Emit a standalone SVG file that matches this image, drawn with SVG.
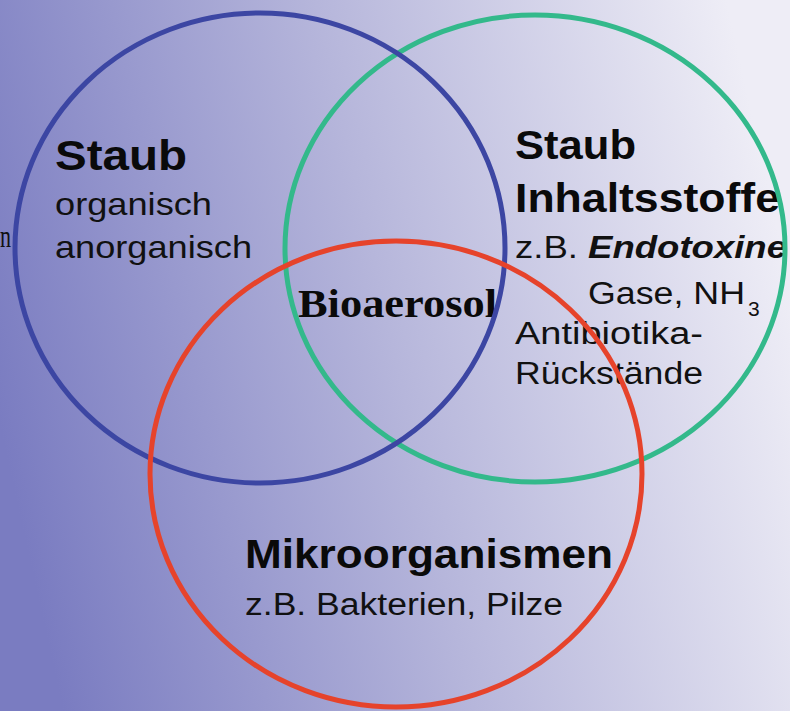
<svg xmlns="http://www.w3.org/2000/svg" width="790" height="711" viewBox="0 0 790 711">
  <defs>
    <linearGradient id="bg" x1="0" y1="0.6" x2="1" y2="0.4">
      <stop offset="0" stop-color="#7a7cc1"/>
      <stop offset="0.5" stop-color="#b6b6db"/>
      <stop offset="1" stop-color="#eeedf6"/>
    </linearGradient>
  </defs>
  <style>
    .ring { fill: none; stroke-width: 5; }
    .b { font-family: "Liberation Sans", Arial, sans-serif; font-weight: bold; fill: #0a0a0a; }
    .r { font-family: "Liberation Sans", Arial, sans-serif; fill: #111111; }
    .s { font-family: "Liberation Serif", "Times New Roman", serif; font-weight: bold; fill: #0a0a0a; }
  </style>
  <rect x="0" y="0" width="790" height="711" fill="url(#bg)"/>
  <text x="0" y="247" font-family="'Liberation Serif', serif" font-size="32" fill="#111111" textLength="11" lengthAdjust="spacingAndGlyphs">n</text>

  <g id="texts">
    <g id="label-staub">
      <text x="55" y="170" class="b" font-size="42" textLength="132" lengthAdjust="spacingAndGlyphs">Staub</text>
      <text x="55" y="215" class="r" font-size="32" textLength="157" lengthAdjust="spacingAndGlyphs">organisch</text>
      <text x="55" y="258" class="r" font-size="32" textLength="197" lengthAdjust="spacingAndGlyphs">anorganisch</text>
    </g>
    <g id="label-inhaltsstoffe">
      <text x="515" y="159" class="b" font-size="40" textLength="121" lengthAdjust="spacingAndGlyphs">Staub</text>
      <text x="515" y="212" class="b" font-size="40" textLength="265" lengthAdjust="spacingAndGlyphs">Inhaltsstoffe</text>
      <text x="515" y="258" class="r" font-size="31" textLength="272" lengthAdjust="spacingAndGlyphs">z.B. <tspan font-weight="bold" font-style="italic">Endotoxine</tspan></text>
      <text x="588" y="304" class="r" font-size="31" textLength="157" lengthAdjust="spacingAndGlyphs">Gase, NH</text>
      <text x="748" y="316" class="r" font-size="21">3</text>
      <text x="515" y="344" class="r" font-size="31" textLength="188" lengthAdjust="spacingAndGlyphs">Antibiotika-</text>
      <text x="515" y="384" class="r" font-size="31" textLength="188" lengthAdjust="spacingAndGlyphs">Rückstände</text>
    </g>
    <g id="label-mikro">
      <text x="245" y="568" class="b" font-size="40" textLength="368" lengthAdjust="spacingAndGlyphs">Mikroorganismen</text>
      <text x="245" y="615" class="r" font-size="31" textLength="318" lengthAdjust="spacingAndGlyphs">z.B. Bakterien, Pilze</text>
    </g>
    <g id="label-bioaerosol">
      <text x="298" y="317" class="s" font-size="41" textLength="199" lengthAdjust="spacingAndGlyphs">Bioaerosol</text>
    </g>
  </g>

  <g id="node-inhaltsstoffe">
    <ellipse cx="535" cy="248.5" rx="250" ry="233.5" class="ring" stroke="#33b98b"/>
  </g>
  <g id="node-staub">
    <ellipse cx="260" cy="248" rx="245" ry="235" class="ring" stroke="#3c46a3"/>
  </g>
  <g id="node-mikro">
    <ellipse cx="396" cy="474" rx="246" ry="233" class="ring" stroke="#e6432b"/>
  </g>
  <g id="connectors"/>
</svg>
